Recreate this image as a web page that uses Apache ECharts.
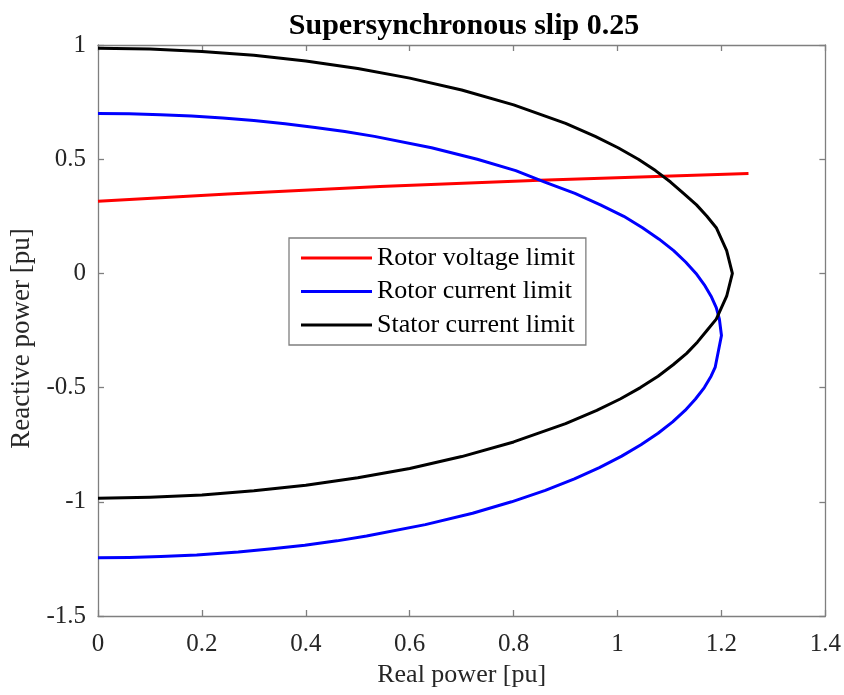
<!DOCTYPE html>
<html>
<head>
<meta charset="utf-8">
<script src="https://cdn.jsdelivr.net/npm/echarts@6/dist/echarts.min.js"></script>
<style>
html,body{margin:0;padding:0;background:#fff;}
#chart{width:844px;height:695px;}
</style>
</head>
<body>
<div id="chart"></div>
<script>
// ---- data ----
const titleText = 'Supersynchronous slip 0.25';
const xLabel = 'Real power [pu]';
const yLabel = 'Reactive power [pu]';
const seriesNames = ['Rotor voltage limit', 'Rotor current limit', 'Stator current limit'];

// Rotor voltage limit (red)
const voltageP = [0, 0.25, 0.5425, 0.85, 1.252];
const voltageQ = [0.316, 0.348, 0.381, 0.408, 0.437];

// Rotor current limit (blue)
const rotorP = [0, 0.06, 0.12, 0.18, 0.24, 0.30, 0.36, 0.418, 0.475, 0.532, 0.642, 0.730, 0.804, 0.860, 0.918, 0.967, 1.012, 1.048, 1.080, 1.108, 1.131, 1.151, 1.167, 1.180, 1.190, 1.196, 1.200, 1.188, 1.180, 1.167, 1.150, 1.130, 1.106, 1.078, 1.045, 1.008, 0.965, 0.917, 0.861, 0.796, 0.721, 0.630, 0.517, 0.460, 0.398, 0.335, 0.270, 0.190, 0.121, 0.06, 0];
const rotorQ = [0.700, 0.699, 0.695, 0.689, 0.680, 0.669, 0.655, 0.639, 0.621, 0.600, 0.550, 0.500, 0.450, 0.400, 0.350, 0.300, 0.250, 0.200, 0.150, 0.100, 0.050, 0.000, -0.050, -0.100, -0.150, -0.200, -0.272, -0.410, -0.450, -0.500, -0.550, -0.600, -0.650, -0.700, -0.750, -0.800, -0.850, -0.900, -0.950, -1.000, -1.050, -1.100, -1.150, -1.171, -1.190, -1.206, -1.220, -1.233, -1.240, -1.2435, -1.245];

// Stator current limit (black)
const statorP = [0, 0.1, 0.2, 0.3, 0.4, 0.5, 0.6, 0.7, 0.8, 0.9, 0.957, 1.001, 1.040, 1.073, 1.102, 1.127, 1.152, 1.172, 1.190, 1.210, 1.221, 1.210, 1.190, 1.172, 1.154, 1.133, 1.107, 1.078, 1.044, 1.005, 0.960, 0.9, 0.8, 0.7, 0.6, 0.5, 0.4, 0.3, 0.2, 0.1, 0];
const statorQ = [0.986, 0.983, 0.972, 0.955, 0.930, 0.897, 0.855, 0.803, 0.738, 0.657, 0.600, 0.550, 0.500, 0.450, 0.400, 0.350, 0.300, 0.250, 0.200, 0.100, 0.000, -0.100, -0.200, -0.250, -0.300, -0.350, -0.400, -0.450, -0.500, -0.550, -0.600, -0.658, -0.738, -0.802, -0.854, -0.895, -0.928, -0.952, -0.970, -0.980, -0.985];

const zip = (a, b) => a.map((v, i) => [v, b[i]]);

const FONT = '"Liberation Serif", "Times New Roman", serif';
const AXIS_COLOR = '#7f7f7f';
const TEXT_COLOR = '#262626';

const chart = echarts.init(document.getElementById('chart'), null, {renderer: 'canvas'});

const baseAxis = {
  type: 'value',
  splitLine: {show: false},
  axisLine: {show: true, onZero: false, lineStyle: {color: AXIS_COLOR, width: 1.3}},
  axisTick: {show: true, inside: true, length: 6, lineStyle: {color: AXIS_COLOR, width: 1.3}},
};

chart.setOption({
  animation: false,
  backgroundColor: '#ffffff',
  title: {
    text: titleText,
    left: 459,
    textAlign: 'center',
    top: 6,
    textStyle: {fontFamily: FONT, fontSize: 30, fontWeight: 'bold', color: '#000'}
  },
  grid: {left: 98, right: 18, top: 45, bottom: 79, containLabel: false},
  legend: {
    orient: 'vertical',
    left: 289,
    top: 238,
    padding: [7, 11, 7, 12],
    itemWidth: 71,
    itemHeight: 3,
    itemGap: 7.5,
    icon: 'rect',
    backgroundColor: '#ffffff',
    borderColor: AXIS_COLOR,
    borderWidth: 1.3,
    borderRadius: 0,
    textStyle: {fontFamily: FONT, fontSize: 26, color: '#000', lineHeight: 26, padding: [0, 0, 0, 0]},
    data: seriesNames
  },
  xAxis: [
    Object.assign({}, baseAxis, {
      position: 'bottom', min: 0, max: 1.4, interval: 0.2,
      name: xLabel, nameLocation: 'middle', nameGap: 40,
      nameTextStyle: {fontFamily: FONT, fontSize: 26, color: TEXT_COLOR},
      axisLabel: {fontFamily: FONT, fontSize: 25, color: TEXT_COLOR, margin: 16}
    }),
    Object.assign({}, baseAxis, {
      position: 'top', min: 0, max: 1.4, interval: 0.2,
      axisLabel: {show: false}
    })
  ],
  yAxis: [
    Object.assign({}, baseAxis, {
      position: 'left', min: -1.5, max: 1, interval: 0.5,
      name: yLabel, nameLocation: 'middle', nameGap: 60,
      nameTextStyle: {fontFamily: FONT, fontSize: 27, color: TEXT_COLOR, padding: [0, 16, 0, 0]},
      axisLabel: {fontFamily: FONT, fontSize: 25, color: TEXT_COLOR, margin: 12}
    }),
    Object.assign({}, baseAxis, {
      position: 'right', min: -1.5, max: 1, interval: 0.5,
      axisLabel: {show: false}
    })
  ],
  series: [
    {
      name: seriesNames[0], type: 'line', xAxisIndex: 0, yAxisIndex: 0,
      data: zip(voltageP, voltageQ), showSymbol: false, symbol: 'none',
      lineStyle: {color: '#ff0000', width: 3}, itemStyle: {color: '#ff0000'}
    },
    {
      name: seriesNames[1], type: 'line', xAxisIndex: 0, yAxisIndex: 0,
      data: zip(rotorP, rotorQ), showSymbol: false, symbol: 'none',
      lineStyle: {color: '#0000ff', width: 3, join: 'round'}, itemStyle: {color: '#0000ff'}
    },
    {
      name: seriesNames[2], type: 'line', xAxisIndex: 0, yAxisIndex: 0,
      data: zip(statorP, statorQ), showSymbol: false, symbol: 'none',
      lineStyle: {color: '#000000', width: 3, join: 'round'}, itemStyle: {color: '#000000'}
    }
  ]
});
</script>
</body>
</html>
